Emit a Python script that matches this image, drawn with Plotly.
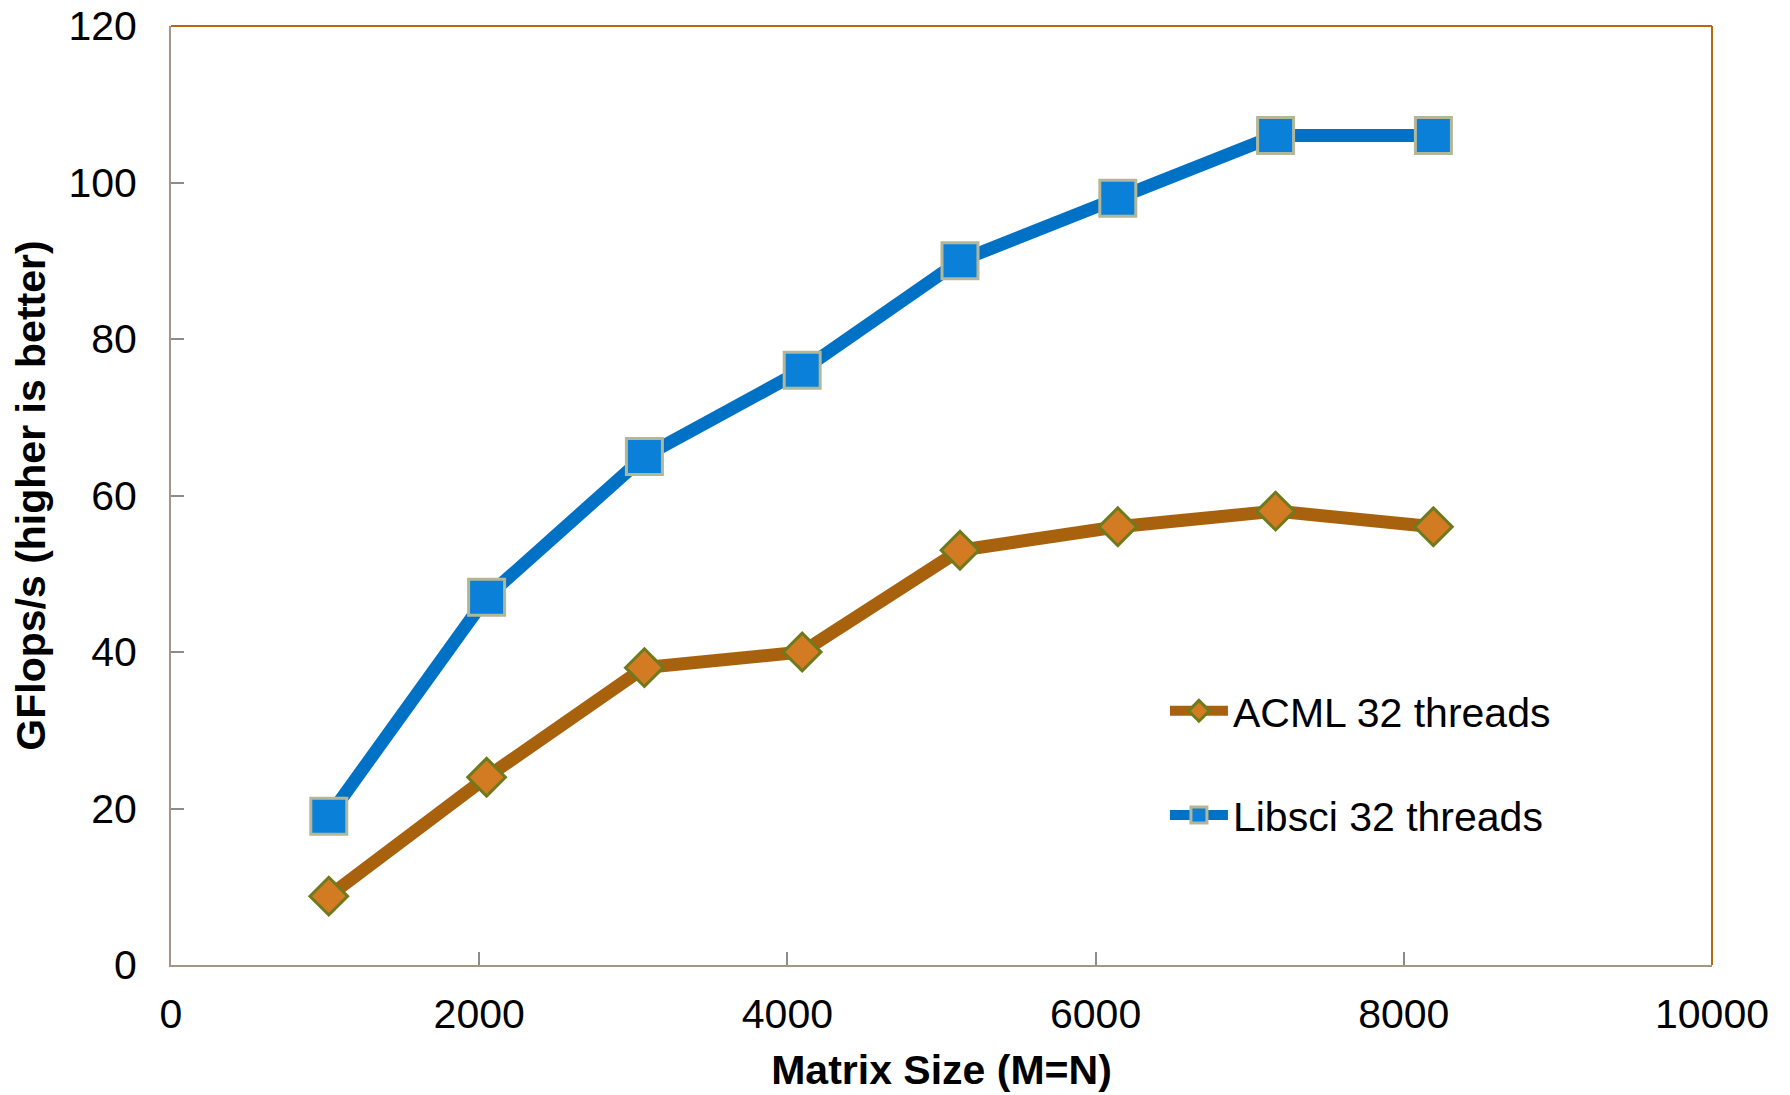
import plotly.graph_objects as go

matrix_size = [1024, 2048, 3072, 4096, 5120, 6144, 7168, 8192]
acml_32 = [8.8, 24, 38, 40, 53, 56, 58, 56]
libsci_32 = [19, 47, 65, 76, 90, 98, 106, 106]
series_names = ["ACML 32 threads", "Libsci 32 threads"]
x_ticks = [0, 2000, 4000, 6000, 8000, 10000]
y_ticks = [0, 20, 40, 60, 80, 100, 120]

FONT = "Liberation Sans, Arial, sans-serif"

fig = go.Figure()
fig.add_trace(go.Scatter(
    x=matrix_size, y=libsci_32, name=series_names[1], mode="lines+markers",
    legendgroup="b", legendrank=2,
    line=dict(color="#0072c6", width=13),
    marker=dict(symbol="square", size=36, color="#0a80d8",
                line=dict(color="#b4b797", width=3)),
))
fig.add_trace(go.Scatter(
    x=matrix_size, y=acml_32, name=series_names[0], mode="lines+markers",
    legendgroup="a", legendrank=1,
    line=dict(color="#a8620e", width=13),
    marker=dict(symbol="diamond", size=29, color="#d27b22",
                line=dict(color="#6e7a1c", width=3)),
))

axis_common = dict(
    showgrid=False, zeroline=False, showline=True, linecolor="#a39684", linewidth=2,
    ticks="inside", ticklen=13, tickwidth=2, tickcolor="#8c8c8c", automargin=False,
    tickfont=dict(family=FONT, size=41, color="#000000"),
)

fig.update_layout(
    width=1790, height=1095,
    margin=dict(l=171, r=78, t=26, b=130),
    paper_bgcolor="white", plot_bgcolor="white",
    font=dict(family=FONT, color="#000000"),
    xaxis=dict(range=[0, 10000], tickvals=x_ticks, ticktext=[str(v) for v in x_ticks],
               ticklabelstandoff=12,
               title=dict(text="<b>Matrix Size (M=N)</b>", font=dict(family=FONT, size=41), standoff=19),
               **axis_common),
    yaxis=dict(range=[0, 120], tickvals=y_ticks, ticktext=[str(v) for v in y_ticks],
               ticklabelstandoff=24,
               title=dict(text="<b>GFlops/s (higher is better)</b>", font=dict(family=FONT, size=41), standoff=10),
               **axis_common),
    legend=dict(x=0.645, y=0.306, xanchor="left", yanchor="top",
                font=dict(family=FONT, size=41, color="#000000"),
                bgcolor="rgba(0,0,0,0)", borderwidth=0,
                itemwidth=58, tracegroupgap=48, traceorder="grouped"),
    showlegend=True,
)

fig.add_shape(type="line", xref="x domain", yref="y domain", x0=0, x1=1, y0=1, y1=1,
              line=dict(color="#b5690f", width=2))
fig.add_shape(type="line", xref="x domain", yref="y domain", x0=1, x1=1, y0=0, y1=1,
              line=dict(color="#b5690f", width=2))

fig.write_html("out.html")
